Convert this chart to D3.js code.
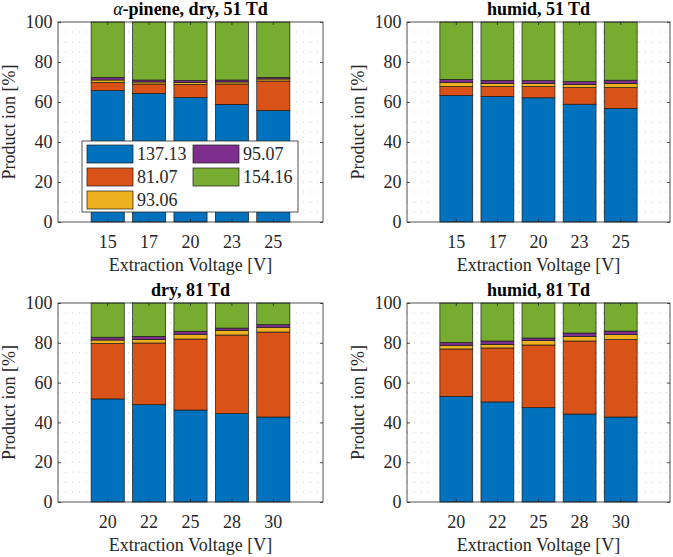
<!DOCTYPE html>
<html><head><meta charset="utf-8">
<script src="https://cdn.jsdelivr.net/npm/d3@7"></script>
<style>
body{margin:0;background:#fff}
text{font-family:"Liberation Serif","Times New Roman",serif}
</style>
</head><body>
<svg id="c" width="673" height="557"></svg>
<script>
// ---- data ----
const ions = ["137.13","81.07","93.06","95.07","154.16"];
const voltages51 = ["15","17","20","23","25"];
const voltages81 = ["20","22","25","28","30"];
const yTicks = [0,20,40,60,80,100];
const titles = ["\u03B1-pinene, dry, 51 Td","humid, 51 Td","dry, 81 Td","humid, 81 Td"];

// values per ion (rows in ions order), per voltage (columns)
const dry51 = [
  [65.7, 64.3, 62.2, 58.8, 55.7],
  [4.1, 4.7, 6.6, 10.2, 14.8],
  [1.2, 1.0, 1.0, 1.0, 1.0],
  [1.3, 1.0, 1.0, 1.0, 0.8],
  [27.7, 29.0, 29.2, 29.0, 27.7]
];
const humid51 = [
  [63.3, 62.8, 62.1, 58.9, 56.8],
  [4.4, 4.9, 5.6, 8.3, 10.4],
  [2.0, 1.6, 1.5, 1.5, 2.1],
  [1.6, 1.5, 1.5, 1.5, 1.6],
  [28.7, 29.2, 29.3, 29.8, 29.1]
];
const dry81 = [
  [51.8, 48.9, 46.2, 44.4, 42.7],
  [27.8, 31.0, 35.7, 39.5, 42.7],
  [1.8, 1.8, 2.4, 2.4, 2.4],
  [1.4, 1.5, 1.5, 1.1, 1.3],
  [17.2, 16.8, 14.2, 12.6, 10.9]
];
const humid81 = [
  [53.1, 50.3, 47.4, 44.2, 42.7],
  [23.8, 27.1, 31.5, 36.7, 38.9],
  [1.8, 1.8, 2.2, 2.3, 2.5],
  [1.4, 1.7, 1.3, 1.7, 1.8],
  [19.9, 19.1, 17.6, 15.1, 14.1]
];

// ---- styles ----
const colors = ["#0072BD","#D95319","#EDB120","#7E2F8E","#77AC30"];
const axisColor = "#262626";
const svg = d3.select("#c");

const panels = [
  {title: titles[0], cats: voltages51, data: dry51, x0: 58, x1: 323, y0: 22, y1: 222, legend: true, alpha: true},
  {title: titles[1], cats: voltages51, data: humid51, x0: 407, x1: 670, y0: 22, y1: 222},
  {title: titles[2], cats: voltages81, data: dry81, x0: 58, x1: 323, y0: 303, y1: 502},
  {title: titles[3], cats: voltages81, data: humid81, x0: 407, x1: 670, y0: 303, y1: 502}
];

panels.forEach(p => {
  const g = svg.append("g");
  const x = d3.scaleBand().domain(p.cats).range([p.x0, p.x1]).paddingInner(0.2).paddingOuter(0.8);
  const y = d3.scaleLinear().domain([0, 100]).range([p.y1, p.y0]);

  // minor dotted grid
  const minor = d3.range(5, 100, 5);
  g.append("g").selectAll("line").data(minor).join("line")
    .attr("x1", p.x0).attr("x2", p.x1)
    .attr("y1", d => y(d)).attr("y2", d => y(d))
    .attr("stroke", "#bdbdbd").attr("stroke-width", 0.8)
    .attr("stroke-dasharray", "1,6");

  // table for stacking
  const table = p.cats.map((c, j) => {
    const o = {cat: c};
    ions.forEach((k, i) => o[k] = p.data[i][j]);
    return o;
  });
  const stacked = d3.stack().keys(ions)(table);
  stacked.forEach((layer, i) => {
    g.append("g").selectAll("rect").data(layer).join("rect")
      .attr("x", d => x(d.data.cat))
      .attr("width", x.bandwidth())
      .attr("y", d => y(d[1]))
      .attr("height", d => y(d[0]) - y(d[1]))
      .attr("fill", colors[i])
      .attr("stroke", "#1a1a1a").attr("stroke-width", 0.7);
  });

  // axes
  const ax = g.append("g").attr("transform", `translate(${p.x0},0)`)
    .call(d3.axisLeft(y).tickValues(yTicks).tickSizeInner(-3).tickSizeOuter(0).tickPadding(5.5));
  const bx = g.append("g").attr("transform", `translate(0,${p.y1})`)
    .call(d3.axisBottom(x).tickSizeInner(-3).tickSizeOuter(0).tickPadding(13));
  const rx = g.append("g").attr("transform", `translate(${p.x1},0)`)
    .call(d3.axisRight(y).tickValues(yTicks).tickSizeInner(-3).tickSizeOuter(0).tickFormat(""));
  const tx = g.append("g").attr("transform", `translate(0,${p.y0})`)
    .call(d3.axisTop(x).tickSizeInner(-3).tickSizeOuter(0).tickFormat(""));
  [ax, bx, rx, tx].forEach(a => {
    a.select(".domain").remove();
    a.selectAll("line").attr("stroke", axisColor).attr("stroke-width", 0.8);
    a.selectAll("text").attr("fill", axisColor).style("font-size", "18px")
      .style("font-family", '"Liberation Serif", serif');
  });
  g.append("rect").attr("x", p.x0).attr("y", p.y0)
    .attr("width", p.x1 - p.x0).attr("height", p.y1 - p.y0)
    .attr("fill", "none").attr("stroke", axisColor).attr("stroke-width", 0.8);

  // labels
  g.append("text").attr("x", (p.x0 + p.x1) / 2).attr("y", p.y1 + 48.5)
    .attr("text-anchor", "middle").attr("fill", axisColor).style("font-size", "18px")
    .text("Extraction Voltage [V]");
  g.append("text").attr("transform", `translate(${p.x0 - 43},${(p.y0 + p.y1) / 2}) rotate(-90)`)
    .attr("text-anchor", "middle").attr("fill", axisColor).style("font-size", "18px")
    .text("Product ion [%]");
  const t = g.append("text").attr("x", (p.x0 + p.x1) / 2).attr("y", p.y0 - 7.5)
    .attr("text-anchor", "middle").attr("fill", "#000").style("font-size", "18px")
    .style("font-weight", "bold");
  if (p.alpha) {
    t.append("tspan").style("font-style", "italic").style("font-weight", "normal").text(p.title.slice(0, 1));
    t.append("tspan").text(p.title.slice(1));
  } else {
    t.text(p.title);
  }

  if (p.legend) {
    const lg = g.append("g");
    lg.append("rect").attr("x", 82).attr("y", 141).attr("width", 216).attr("height", 71)
      .attr("fill", "#fff").attr("stroke", "#262626").attr("stroke-width", 0.8);
    ions.forEach((k, i) => {
      const col = i < 3 ? 0 : 1;
      const row = i < 3 ? i : i - 3;
      const sx = col === 0 ? 87 : 193;
      const sy = 145 + row * 23;
      lg.append("rect").attr("x", sx).attr("y", sy).attr("width", 46).attr("height", 18)
        .attr("fill", colors[i]).attr("stroke", "#1a1a1a").attr("stroke-width", 0.7);
      lg.append("text").attr("x", sx + 50).attr("y", sy + 9).attr("dy", "0.35em")
        .attr("fill", axisColor).style("font-size", "18px").text(k);
    });
  }
});
</script>
</body></html>
